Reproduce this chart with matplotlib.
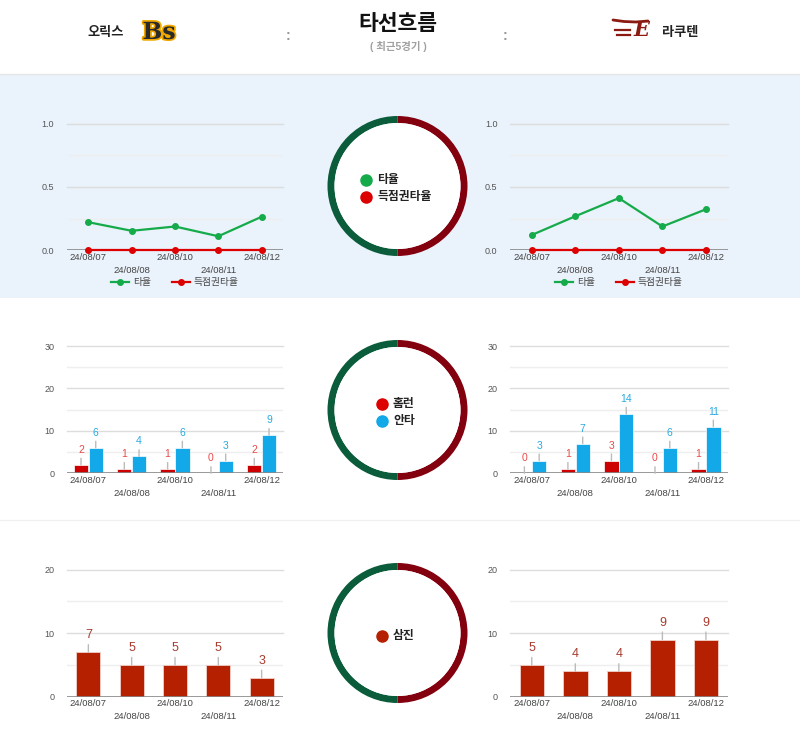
import matplotlib
matplotlib.use("Agg")
import matplotlib.pyplot as plt
import matplotlib.patheffects as pe
from matplotlib.patches import Wedge, Rectangle

plt.rcParams['font.family'] = ['Liberation Sans', 'Noto Sans CJK KR', 'DejaVu Sans']

# data
dates = ['24/08/07', '24/08/08', '24/08/10', '24/08/11', '24/08/12']
orix_avg = [0.222, 0.154, 0.188, 0.111, 0.265]
orix_risp = [0, 0, 0, 0, 0]
rakuten_avg = [0.121, 0.269, 0.412, 0.188, 0.324]
rakuten_risp = [0, 0, 0, 0, 0]
orix_hr = [2, 1, 1, 0, 2]
orix_hits = [6, 4, 6, 3, 9]
rakuten_hr = [0, 1, 3, 0, 1]
rakuten_hits = [3, 7, 14, 6, 11]
orix_so = [7, 5, 5, 5, 3]
rakuten_so = [5, 4, 4, 9, 9]

W, H = 800, 743
GREEN = '#16ab4a'
RED = '#dd0000'
BLUE = '#13a8e8'
SO_RED = '#b52000'
RING_G = '#0b5c3a'
RING_R = '#83000f'

fig = plt.figure(figsize=(W / 100, H / 100), dpi=100)

# background / decoration layer in pixel coordinates
bg = fig.add_axes([0, 0, 1, 1], zorder=0)
bg.set_xlim(0, W)
bg.set_ylim(H, 0)
bg.axis('off')
bg.add_patch(Rectangle((0, 74), W, 224, color='#eaf2fb', lw=0))
bg.plot([0, W], [74, 74], color='#e6e6e6', lw=1)
bg.plot([0, W], [520, 520], color='#f0f0f0', lw=1)

# header
bg.text(106, 33, '오릭스', ha='center', va='center', fontsize=9.5, weight='bold', color='#222')
bg.text(159, 32, 'Bs', ha='center', va='center', fontsize=17, weight='bold',
        family='DejaVu Serif', color='#2a2a2a',
        path_effects=[pe.Stroke(linewidth=2.5, foreground='#f0a800'), pe.Normal()])
bg.text(288, 36, ':', ha='center', va='center', fontsize=10, color='#999', weight='bold')
bg.text(398, 25, '타선흐름', ha='center', va='center', fontsize=15.5, weight='bold', color='#111')
bg.text(398, 46, '( 최근5경기 )', ha='center', va='center', fontsize=7.5, weight='bold', color='#a0a0a0')
bg.text(505, 36, ':', ha='center', va='center', fontsize=10, color='#999', weight='bold')
bg.text(641, 30, 'E', ha='center', va='center', fontsize=15, weight='bold', style='italic',
        family='DejaVu Serif', color='#8a1a12')
bg.plot([613, 624, 636, 648], [20, 21.5, 22, 21], color='#8a1a12', lw=2, solid_capstyle='round')
bg.plot([615, 630], [30, 30], color='#8a1a12', lw=1.6)
bg.plot([617, 630], [35, 35], color='#8a1a12', lw=1.6)
bg.text(680, 33, '라쿠텐', ha='center', va='center', fontsize=9.5, weight='bold', color='#222')

# rings with the series legends
def ring(cy, items):
    cx, r, w = 397.5, 70, 7
    bg.add_patch(Wedge((cx, cy), r, 90, 270, width=w, color=RING_G, lw=0))
    bg.add_patch(Wedge((cx, cy), r, -90, 90, width=w, color=RING_R, lw=0))
    bg.add_patch(Wedge((cx, cy), r - w, 0, 360, color='white', lw=0))
    for (x, y, label, color) in items:
        bg.plot(x, y, 'o', ms=8, color=color)
        bg.text(x + 11, y, label, ha='left', va='center', fontsize=8.5, weight='bold', color='#222')

ring(186, [(366, 180, '타율', GREEN), (366, 197, '득점권타율', RED)])
ring(410, [(382, 404, '홈런', RED), (382, 421, '안타', BLUE)])
ring(633, [(382, 636, '삼진', SO_RED)])


def make_ax(x0, x1, ytop, ybot):
    ax = fig.add_axes([x0 / W, 1 - ybot / H, (x1 - x0) / W, (ybot - ytop) / H], zorder=1)
    ax.set_facecolor('none')
    for s in ax.spines.values():
        s.set_visible(False)
    ax.set_xlim(-0.5, 4.5)
    ax.set_xticks([])
    ax.tick_params(axis='y', length=0, pad=9, labelsize=6.5, labelcolor='#555')
    return ax


def style_y(ax, top, major, fmt):
    ax.set_ylim(0, top)
    ticks = [i * major for i in range(int(round(top / major)) + 1)]
    ax.set_yticks(ticks)
    ax.set_yticklabels([fmt % t for t in ticks])
    for t in ticks[1:]:
        ax.axhline(t, color='#dddddd', lw=1, zorder=0, clip_on=False)
    for t in ticks[:-1]:
        ax.axhline(t + major / 2, color='#eeeeee', lw=1, zorder=0)
    ax.axhline(0, color='#888888', lw=1.2, zorder=3)
    for i, d in enumerate(dates):
        off = -7 if i % 2 == 0 else -20
        ax.annotate(d, xy=(i, 0), xycoords=('data', 'axes fraction'), xytext=(0, off),
                    textcoords='offset pixels', ha='center', va='center',
                    fontsize=6.8, color='#444', annotation_clip=False)


def bar_labels(ax, xs, vals, color, off, size):
    for x, v in zip(xs, vals):
        ax.annotate(str(v), xy=(x, v), xytext=(0, off), textcoords='offset pixels',
                    ha='center', va='center', color=color, fontsize=size,
                    arrowprops=dict(arrowstyle='-', color='#bbbbbb', lw=1,
                                    shrinkA=0.5, shrinkB=0), zorder=4)


xs = list(range(len(dates)))
cols = [(66.7, 283.3), (510, 727.7)]

# batting average lines
for (x0, x1), avg, risp in zip(cols, [orix_avg, rakuten_avg], [orix_risp, rakuten_risp]):
    ax = make_ax(x0, x1, 123.7, 250.3)
    style_y(ax, 1.0, 0.5, '%.1f')
    ax.plot(xs, avg, '-o', color=GREEN, lw=1.6, ms=4, label='타율', zorder=4, clip_on=False)
    ax.plot(xs, risp, '-o', color=RED, lw=1.6, ms=4, label='득점권타율', zorder=4, clip_on=False)
    ax.legend(loc='center', bbox_to_anchor=(0.5, -32 / 126.6), ncol=2, frameon=False,
              fontsize=7, handlelength=1.8, columnspacing=2.2, handletextpad=0.4,
              labelcolor='#444')

# home runs and hits
for (x0, x1), hr, hits in zip(cols, [orix_hr, rakuten_hr], [orix_hits, rakuten_hits]):
    ax = make_ax(x0, x1, 346, 473.3)
    style_y(ax, 30, 10, '%d')
    xr = [x - 0.17 for x in xs]
    xb = [x + 0.17 for x in xs]
    ax.bar(xr, hr, width=0.33, color='#cc0000', edgecolor='white', lw=0.5, zorder=2)
    ax.bar(xb, hits, width=0.33, color=BLUE, edgecolor='white', lw=0.5, zorder=2)
    bar_labels(ax, xr, hr, '#e84a4a', 15, 7.5)
    bar_labels(ax, xb, hits, '#2aa9e0', 15, 7.5)

# strikeouts
for (x0, x1), so in zip(cols, [orix_so, rakuten_so]):
    ax = make_ax(x0, x1, 569.7, 696.7)
    style_y(ax, 20, 10, '%d')
    ax.bar(xs, so, width=0.56, color=SO_RED, edgecolor='#f0d0c8', lw=0.6, zorder=2)
    bar_labels(ax, xs, so, '#a83a2e', 17, 9)

fig.savefig('out.png', dpi=100)
